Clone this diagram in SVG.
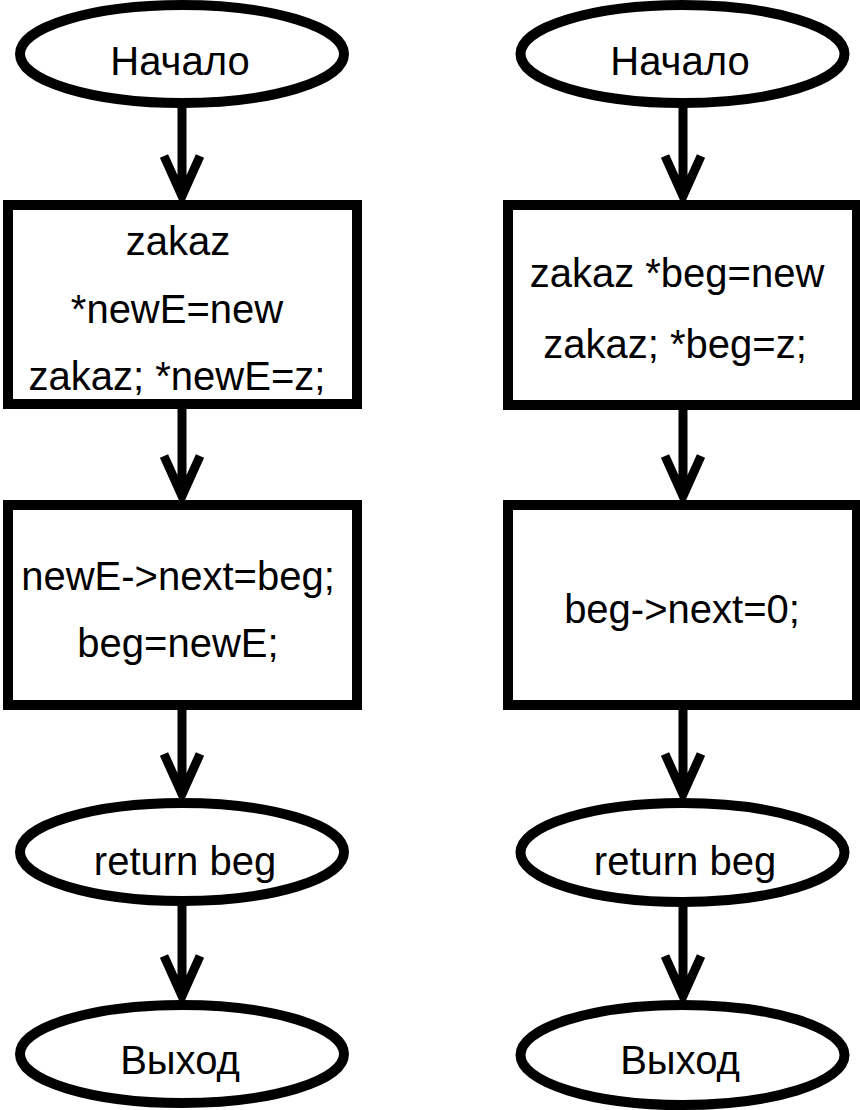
<svg xmlns="http://www.w3.org/2000/svg" width="860" height="1110" viewBox="0 0 860 1110">
<style>
.shape{fill:#fff;stroke:#000;stroke-width:10}
.conn{fill:none;stroke:#000;stroke-width:9;stroke-linecap:butt;stroke-linejoin:miter;stroke-miterlimit:10}
text{font-family:"Liberation Sans",Arial,sans-serif;font-size:40px;fill:#000;text-anchor:middle}
</style>
<rect width="860" height="1110" fill="#fff"/>
<g id="connectors">
<path class="conn" d="M182,103 V196 M164,156 L182,196 L200,156"/>
<path class="conn" d="M182,404 V496 M164,456 L182,496 L200,456"/>
<path class="conn" d="M182,705 V794 M164,754 L182,794 L200,754"/>
<path class="conn" d="M182,901 V996 M164,956 L182,996 L200,956"/>
<path class="conn" d="M683,103 V196 M665,156 L683,196 L701,156"/>
<path class="conn" d="M683,405 V496 M665,456 L683,496 L701,456"/>
<path class="conn" d="M683,705 V794 M665,754 L683,794 L701,754"/>
<path class="conn" d="M683,902 V996 M665,956 L683,996 L701,956"/>
</g>
<g id="L_start"><ellipse class="shape" cx="182" cy="54" rx="162" ry="49"/><text x="180" y="75">Начало</text></g>
<g id="L_alloc"><rect class="shape" x="8" y="205" width="349" height="199"/><text x="178" y="255">zakaz</text><text x="177" y="323">*newE=new</text><text x="177" y="390">zakaz; *newE=z;</text></g>
<g id="L_link"><rect class="shape" x="8" y="505" width="349" height="200"/><text x="178" y="590">newE-&gt;next=beg;</text><text x="178" y="657">beg=newE;</text></g>
<g id="L_return"><ellipse class="shape" cx="182" cy="852" rx="162" ry="49"/><text x="185" y="875">return beg</text></g>
<g id="L_exit"><ellipse class="shape" cx="182" cy="1054" rx="162" ry="49"/><text x="180" y="1074">Выход</text></g>
<g id="R_start"><ellipse class="shape" cx="682.5" cy="54" rx="162" ry="49"/><text x="680" y="75">Начало</text></g>
<g id="R_alloc"><rect class="shape" x="508" y="205" width="349" height="200"/><text x="677" y="287">zakaz *beg=new</text><text x="675" y="358">zakaz; *beg=z;</text></g>
<g id="R_init"><rect class="shape" x="508" y="505" width="349" height="200"/><text x="682" y="623">beg-&gt;next=0;</text></g>
<g id="R_return"><ellipse class="shape" cx="682.5" cy="852.5" rx="162" ry="49.5"/><text x="685" y="875">return beg</text></g>
<g id="R_exit"><ellipse class="shape" cx="682.5" cy="1055" rx="162" ry="50"/><text x="680" y="1074">Выход</text></g>
</svg>
